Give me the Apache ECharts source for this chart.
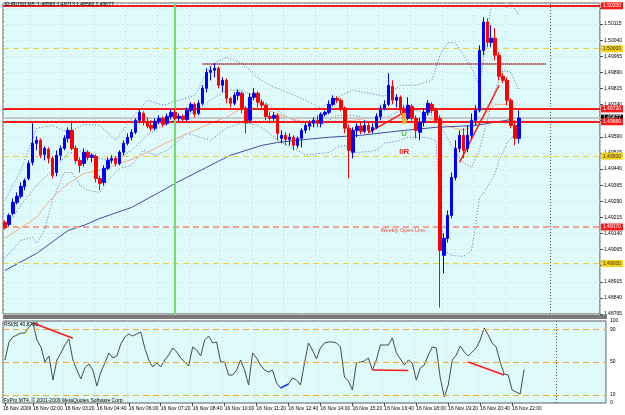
<!DOCTYPE html>
<html>
<head>
<meta charset="utf-8">
<script src="https://cdn.jsdelivr.net/npm/echarts@6/dist/echarts.min.js"></script>
<style>
  html, body { margin: 0; padding: 0; background: #fff; }
  #chart { width: 625px; height: 415px; }
</style>
</head>
<body>
<div id="chart"></div>
<script>
// EURUSD M5, 16 Nov 2009 -- one candle per 10 minutes
const FONT = "Liberation Sans";
const startLabel = "16 Nov 2009";
const startMinutes = 50; // first slot is 00:50
const stepMinutes = 10;
const slotCount = 151;   // candles + empty space on the right
const tickSlots = [0, 7, 15, 23, 31, 39, 47, 55, 63, 71, 79, 87, 95, 103, 111, 119, 127];

const priceMin = 1.48765;
const priceMax = 1.50213;
const priceStep = 0.00075;

// [open, close, low, high]
const candles = [
  [1.49192, 1.49168, 1.49159, 1.49201], [1.49182, 1.49224, 1.49173, 1.49233], [1.49233, 1.49285, 1.49224, 1.49303],
  [1.49285, 1.49313, 1.49275, 1.49331], [1.49313, 1.49359, 1.49303, 1.49378], [1.49359, 1.49387, 1.49341, 1.49396],
  [1.49396, 1.49466, 1.49387, 1.49480], [1.49471, 1.49560, 1.49457, 1.49653], [1.49560, 1.49574, 1.49527, 1.49592],
  [1.49574, 1.49504, 1.49490, 1.49583], [1.49508, 1.49536, 1.49480, 1.49546], [1.49532, 1.49490, 1.49466, 1.49541],
  [1.49490, 1.49410, 1.49396, 1.49499], [1.49424, 1.49504, 1.49406, 1.49527], [1.49504, 1.49536, 1.49480, 1.49550],
  [1.49536, 1.49583, 1.49527, 1.49597], [1.49583, 1.49620, 1.49564, 1.49634], [1.49620, 1.49536, 1.49527, 1.49657],
  [1.49536, 1.49480, 1.49466, 1.49550], [1.49480, 1.49457, 1.49424, 1.49494], [1.49466, 1.49518, 1.49452, 1.49536],
  [1.49518, 1.49494, 1.49480, 1.49527], [1.49494, 1.49504, 1.49471, 1.49513], [1.49499, 1.49396, 1.49378, 1.49508],
  [1.49396, 1.49373, 1.49341, 1.49410], [1.49378, 1.49443, 1.49364, 1.49457], [1.49443, 1.49480, 1.49434, 1.49494],
  [1.49480, 1.49490, 1.49466, 1.49504], [1.49490, 1.49466, 1.49452, 1.49499], [1.49466, 1.49518, 1.49457, 1.49527],
  [1.49518, 1.49560, 1.49504, 1.49574], [1.49560, 1.49588, 1.49550, 1.49606], [1.49588, 1.49611, 1.49574, 1.49625],
  [1.49611, 1.49667, 1.49602, 1.49676], [1.49667, 1.49704, 1.49653, 1.49718], [1.49699, 1.49657, 1.49643, 1.49709],
  [1.49662, 1.49639, 1.49630, 1.49681], [1.49643, 1.49630, 1.49616, 1.49667], [1.49630, 1.49662, 1.49620, 1.49676],
  [1.49662, 1.49676, 1.49648, 1.49690], [1.49676, 1.49648, 1.49634, 1.49685], [1.49653, 1.49685, 1.49643, 1.49699],
  [1.49685, 1.49704, 1.49671, 1.49718], [1.49704, 1.49676, 1.49667, 1.49723], [1.49676, 1.49685, 1.49662, 1.49699],
  [1.49685, 1.49671, 1.49662, 1.49695], [1.49671, 1.49713, 1.49662, 1.49727], [1.49713, 1.49741, 1.49704, 1.49751],
  [1.49741, 1.49695, 1.49681, 1.49751], [1.49699, 1.49746, 1.49690, 1.49760], [1.49746, 1.49816, 1.49737, 1.49830],
  [1.49816, 1.49890, 1.49797, 1.49909], [1.49890, 1.49900, 1.49853, 1.49918], [1.49900, 1.49909, 1.49867, 1.49932],
  [1.49909, 1.49830, 1.49816, 1.49918], [1.49830, 1.49853, 1.49797, 1.49867], [1.49853, 1.49769, 1.49746, 1.49863],
  [1.49769, 1.49746, 1.49727, 1.49774], [1.49746, 1.49783, 1.49737, 1.49797], [1.49783, 1.49797, 1.49760, 1.49811],
  [1.49793, 1.49723, 1.49699, 1.49802], [1.49723, 1.49657, 1.49606, 1.49732], [1.49667, 1.49774, 1.49653, 1.49793],
  [1.49774, 1.49793, 1.49760, 1.49816], [1.49793, 1.49751, 1.49727, 1.49802], [1.49751, 1.49737, 1.49713, 1.49765],
  [1.49737, 1.49685, 1.49667, 1.49746], [1.49685, 1.49676, 1.49653, 1.49704], [1.49676, 1.49690, 1.49662, 1.49704],
  [1.49690, 1.49606, 1.49574, 1.49699], [1.49583, 1.49597, 1.49560, 1.49620], [1.49597, 1.49578, 1.49550, 1.49611],
  [1.49578, 1.49588, 1.49550, 1.49606], [1.49588, 1.49550, 1.49527, 1.49597], [1.49550, 1.49583, 1.49536, 1.49592],
  [1.49583, 1.49620, 1.49541, 1.49630], [1.49620, 1.49643, 1.49606, 1.49657], [1.49639, 1.49653, 1.49620, 1.49667],
  [1.49653, 1.49667, 1.49634, 1.49681], [1.49667, 1.49653, 1.49634, 1.49690], [1.49653, 1.49695, 1.49634, 1.49704],
  [1.49695, 1.49704, 1.49685, 1.49713], [1.49704, 1.49741, 1.49695, 1.49760], [1.49741, 1.49769, 1.49732, 1.49783],
  [1.49769, 1.49760, 1.49746, 1.49779], [1.49760, 1.49723, 1.49709, 1.49769], [1.49723, 1.49630, 1.49606, 1.49732],
  [1.49630, 1.49527, 1.49396, 1.49648], [1.49518, 1.49620, 1.49490, 1.49634], [1.49620, 1.49639, 1.49588, 1.49653],
  [1.49639, 1.49616, 1.49602, 1.49662], [1.49616, 1.49643, 1.49606, 1.49667], [1.49643, 1.49620, 1.49606, 1.49657],
  [1.49620, 1.49634, 1.49606, 1.49653], [1.49634, 1.49685, 1.49625, 1.49699], [1.49685, 1.49723, 1.49667, 1.49737],
  [1.49723, 1.49741, 1.49713, 1.49760], [1.49741, 1.49830, 1.49732, 1.49886], [1.49825, 1.49760, 1.49741, 1.49853],
  [1.49760, 1.49774, 1.49727, 1.49788], [1.49774, 1.49723, 1.49699, 1.49783], [1.49723, 1.49676, 1.49653, 1.49737],
  [1.49676, 1.49737, 1.49667, 1.49774], [1.49732, 1.49676, 1.49657, 1.49741], [1.49676, 1.49620, 1.49583, 1.49690],
  [1.49611, 1.49657, 1.49574, 1.49676], [1.49657, 1.49704, 1.49639, 1.49723], [1.49704, 1.49746, 1.49690, 1.49760],
  [1.49741, 1.49713, 1.49699, 1.49751], [1.49713, 1.49667, 1.49653, 1.49723], [1.49676, 1.49061, 1.48795, 1.49690],
  [1.49038, 1.49117, 1.48954, 1.49140], [1.49117, 1.49224, 1.49098, 1.49247], [1.49224, 1.49401, 1.49210, 1.49424],
  [1.49401, 1.49536, 1.49387, 1.49574], [1.49536, 1.49597, 1.49518, 1.49620], [1.49597, 1.49527, 1.49490, 1.49630],
  [1.49536, 1.49597, 1.49518, 1.49643], [1.49597, 1.49667, 1.49583, 1.49699], [1.49667, 1.49713, 1.49643, 1.49737],
  [1.49713, 1.49993, 1.49704, 1.50016], [1.49993, 1.50124, 1.49970, 1.50147], [1.50124, 1.50030, 1.50007, 1.50142],
  [1.50030, 1.50049, 1.50007, 1.50110], [1.50049, 1.49970, 1.49946, 1.50096], [1.49970, 1.49872, 1.49853, 1.49984],
  [1.49872, 1.49853, 1.49839, 1.49886], [1.49853, 1.49760, 1.49737, 1.49867], [1.49760, 1.49643, 1.49630, 1.49769],
  [1.49643, 1.49583, 1.49550, 1.49667], [1.49583, 1.49677, 1.49560, 1.49713]
];

// bollinger bands and moving averages, [slot, price]
const upperBand = [
  [0, 1.49294], [4, 1.49434], [8, 1.49630], [12, 1.49643], [16, 1.49611], [20, 1.49648], [24, 1.49643],
  [28, 1.49574], [32, 1.49676], [36, 1.49760], [40, 1.49737], [44, 1.49760], [48, 1.49783], [52, 1.49923],
  [56, 1.49960], [60, 1.49932], [64, 1.49863], [68, 1.49821], [72, 1.49793], [76, 1.49760], [80, 1.49723],
  [84, 1.49774], [88, 1.49807], [92, 1.49793], [96, 1.49779], [100, 1.49830], [104, 1.49830], [108, 1.49853],
  [110, 1.49970], [112, 1.50030], [114, 1.50026], [116, 1.49970], [118, 1.49914], [120, 1.49830],
  [122, 1.50063], [123, 1.50212], [126, 1.50212], [127, 1.50193], [128, 1.50212], [130, 1.50156]
];
const middleBand = [
  [0, 1.49159], [4, 1.49271], [8, 1.49364], [12, 1.49434], [16, 1.49513], [20, 1.49527], [24, 1.49490],
  [28, 1.49480], [32, 1.49527], [36, 1.49597], [40, 1.49643], [44, 1.49681], [48, 1.49704], [52, 1.49760],
  [56, 1.49807], [60, 1.49807], [64, 1.49769], [68, 1.49723], [72, 1.49676], [76, 1.49643], [80, 1.49643],
  [84, 1.49690], [88, 1.49690], [92, 1.49676], [96, 1.49676], [100, 1.49713], [104, 1.49713], [108, 1.49690],
  [110, 1.49643], [113, 1.49550], [116, 1.49466], [118, 1.49448], [120, 1.49527], [122, 1.49667],
  [124, 1.49807], [126, 1.49900], [128, 1.49890], [130, 1.49807]
];
const lowerBand = [
  [0, 1.49024], [4, 1.49108], [7, 1.49122], [8, 1.49094], [10, 1.49154], [12, 1.49294], [15, 1.49424],
  [17, 1.49424], [19, 1.49364], [21, 1.49341], [24, 1.49331], [26, 1.49387], [29, 1.49443], [32, 1.49457],
  [35, 1.49527], [38, 1.49504], [41, 1.49527], [44, 1.49574], [46, 1.49606], [48, 1.49597], [50, 1.49583],
  [52, 1.49574], [56, 1.49630], [60, 1.49657], [64, 1.49643], [66, 1.49620], [69, 1.49574], [74, 1.49527],
  [76, 1.49504], [82, 1.49518], [84, 1.49541], [86, 1.49550], [88, 1.49518], [90, 1.49518], [94, 1.49527],
  [96, 1.49560], [100, 1.49574], [102, 1.49588], [106, 1.49588], [109, 1.49574], [110, 1.49294],
  [111, 1.49061], [113, 1.49038], [116, 1.49033], [118, 1.49061], [119, 1.49168], [120, 1.49308],
  [121, 1.49327], [122, 1.49355], [124, 1.49420], [125, 1.49480], [127, 1.49560], [129, 1.49606], [130, 1.49620]
];
const fastMa = [
  [0, 1.49117], [8, 1.49215], [12, 1.49308], [16, 1.49373], [20, 1.49420], [24, 1.49434], [29, 1.49466],
  [33, 1.49490], [37, 1.49527], [41, 1.49564], [44, 1.49588], [48, 1.49620], [52, 1.49653], [56, 1.49681],
  [60, 1.49723], [64, 1.49723], [68, 1.49704], [72, 1.49676], [77, 1.49653], [82, 1.49657], [88, 1.49667],
  [94, 1.49681], [100, 1.49681], [107, 1.49676], [110, 1.49657], [113, 1.49634], [116, 1.49620],
  [119, 1.49643], [122, 1.49704], [124, 1.49741], [127, 1.49741], [130, 1.49713]
];
const slowMa = [
  [0, 1.48968], [8, 1.49047], [16, 1.49154], [20, 1.49178], [24, 1.49210], [32, 1.49261], [40, 1.49341],
  [43, 1.49373], [51, 1.49448], [57, 1.49504], [65, 1.49550], [69, 1.49564], [74, 1.49574], [82, 1.49588],
  [90, 1.49597], [101, 1.49620], [109, 1.49634], [119, 1.49643], [127, 1.49667], [130, 1.49681]
];

const rsiValues = [
  52.4, 74.4, 80.5, 82.9, 85.4, 85.4, 92.7, 97.6, 76.8, 68.3,
  50.0, 57.3, 28.0, 52.4, 61.0, 70.7, 78.0, 52.4, 40.2, 29.3,
  42.7, 47.6, 40.2, 20.7, 37.8, 48.8, 61.0, 54.9, 57.3, 72.0,
  80.5, 84.1, 81.7, 84.1, 86.6, 67.1, 52.4, 43.9, 48.8, 43.9,
  52.4, 58.5, 67.1, 62.2, 54.9, 50.0, 45.1, 68.3, 64.6, 57.3,
  76.8, 81.7, 73.2, 74.4, 50.0, 50.0, 34.1, 34.1, 40.2, 52.4,
  40.2, 22.0, 61.0, 54.9, 46.3, 40.2, 37.8, 40.2, 24.4, 18.3,
  20.7, 23.2, 30.5, 28.0, 22.0, 48.8, 73.2, 64.6, 53.7, 67.1,
  73.2, 74.4, 74.4, 73.2, 68.3, 31.7, 26.8, 15.9, 48.8, 50.0,
  51.2, 54.9, 40.2, 52.4, 70.7, 70.7, 70.7, 79.3, 61.0, 53.7,
  46.3, 52.4, 48.8, 28.0, 42.7, 46.3, 58.5, 68.3, 67.1, 30.5,
  7.3, 22.0, 52.4, 58.5, 69.5, 62.2, 57.3, 62.2, 67.1, 76.8,
  91.5, 82.9, 73.2, 68.3, 50.0, 35.4, 34.1, 15.9, 13.4, 11.0,
  40.87
];
const rsiLevels = [90, 50, 10];
const rsiTickLabels = [0, 10, 50, 90, 100];

// horizontal levels drawn on the price pane
const redLevels = [1.50200, 1.49720, 1.49660];
const yellowLevels = [1.50000, 1.49500, 1.49000];
const weeklyOpen = 1.49170;
const bidPrice = 1.49677;
const resistance = { from: 50, to: 137, price: 1.49932 };
const greenSlot = 43;
const futureSlot = 138;

const pad = (n) => String(n).padStart(2, "0");
const categories = [];
for (let i = 0; i < slotCount; i++) {
  const m = startMinutes + i * stepMinutes;
  categories.push(i === 0 ? startLabel : `16 Nov ${pad(Math.floor(m / 60) % 24)}:${pad(m % 60)}`);
}
const showTick = (index) => tickSlots.includes(index);

function levelLine(price, color, type, width, box, textColor) {
  return {
    yAxis: price,
    lineStyle: { color, type, width },
    label: box
      ? {
          show: true, position: "end", distance: 1, formatter: price.toFixed(5),
          backgroundColor: box, color: textColor, fontSize: 5, fontFamily: FONT, padding: [1, 2],
        }
      : { show: false },
  };
}

function textMark(slot, price, text, color, size, weight) {
  return {
    coord: [slot, price], symbolSize: 0,
    label: { show: true, position: "inside", formatter: text, color, fontSize: size, fontWeight: weight, fontFamily: FONT },
  };
}

const chart = echarts.init(document.getElementById("chart"));
const bandLine = (name, data) => ({
  name, type: "line", data, xAxisIndex: 0, yAxisIndex: 0, showSymbol: false, silent: true,
  lineStyle: { color: "#5d6fc0", width: 1, type: [1, 2] }, z: 3,
});
const smallText = { fontSize: 5, fontWeight: "normal", color: "#000", fontFamily: FONT };

chart.setOption({
  animation: false,
  backgroundColor: "#ffffff",
  textStyle: { fontFamily: FONT },
  title: [
    { text: "EURUSD,M5  1.49583 1.49713 1.49560 1.49677", left: 5, top: 2, padding: 0, textStyle: smallText },
    { text: "RSI(8) 40.8709", left: 4, top: 322, padding: 0, textStyle: smallText },
    { text: "FxPro MT4, \u00a9 2001-2009 MetaQuotes Software Corp.", left: 4, top: 398, padding: 0, textStyle: smallText },
    // first time label of the axis (drawn apart so it does not knock out its neighbour)
    { text: startLabel, left: 3, top: 406, padding: 0, textStyle: smallText },
  ],
  graphic: [
    { type: "rect", shape: { x: 3, y: 315, width: 604, height: 4 }, style: { fill: "#7a7a7a" }, silent: true },
  ],
  grid: [
    { left: 3, right: 19, top: 3, bottom: 101, show: true, backgroundColor: "#dffafa", borderColor: "#5a5a5a", borderWidth: 1 },
    { left: 3, right: 19, top: 321, bottom: 12, show: true, backgroundColor: "#dffafa", borderColor: "#5a5a5a", borderWidth: 1 },
  ],
  xAxis: [
    {
      type: "category", gridIndex: 0, data: categories, boundaryGap: true,
      axisLine: { show: false }, axisTick: { show: false }, axisLabel: { show: false },
      splitLine: { show: true, interval: (i) => showTick(i), lineStyle: { color: "#c3dcd6", type: [1, 3] } },
    },
    {
      type: "category", gridIndex: 1, data: categories, boundaryGap: true,
      axisLine: { show: false },
      axisTick: { show: true, alignWithLabel: true, interval: (i) => showTick(i), length: 3, lineStyle: { color: "#444" } },
      axisLabel: {
        show: true, interval: (i) => i > 0 && showTick(i), showMinLabel: true, showMaxLabel: true, hideOverlap: false,
        align: "left", margin: 3, fontSize: 5, color: "#000", fontFamily: FONT,
      },
      splitLine: { show: true, interval: (i) => showTick(i), lineStyle: { color: "#c3dcd6", type: [1, 3] } },
    },
  ],
  yAxis: [
    { type: "value", gridIndex: 0, min: priceMin, max: priceMax, show: false },
    {
      type: "value", gridIndex: 0, position: "right", min: 0, max: (priceMax - priceMin) / priceStep, interval: 1,
      axisLine: { show: false },
      axisTick: { show: true, length: 3, lineStyle: { color: "#444" } },
      axisLabel: {
        show: true, showMaxLabel: false, margin: 4, fontSize: 5, color: "#000", fontFamily: FONT,
        formatter: (k) => (priceMin + k * priceStep).toFixed(5),
      },
      splitLine: { show: true, lineStyle: { color: "#c3dcd6", type: [1, 3] } },
    },
    {
      type: "value", gridIndex: 1, position: "right", min: 0, max: 100, interval: 10,
      axisLine: { show: false }, axisTick: { show: false }, splitLine: { show: false },
      axisLabel: {
        show: true, margin: 4, fontSize: 5, color: "#000", fontFamily: FONT,
        formatter: (v) => (rsiTickLabels.includes(v) ? String(v) : ""),
      },
    },
  ],
  series: [
    {
      name: "EURUSD", type: "candlestick", data: candles, xAxisIndex: 0, yAxisIndex: 0,
      barWidth: 3, z: 5,
      itemStyle: { color: "#0000ff", color0: "#ff0000", borderColor: "#0000ff", borderColor0: "#ff0000", borderWidth: 1 },
    },
    bandLine("Upper band", upperBand),
    bandLine("Middle band", middleBand),
    bandLine("Lower band", lowerBand),
    {
      name: "Fast MA", type: "line", data: fastMa, xAxisIndex: 0, yAxisIndex: 0, showSymbol: false, silent: true,
      lineStyle: { color: "#f2b08c", width: 1 }, z: 3,
    },
    {
      name: "Slow MA", type: "line", data: slowMa, xAxisIndex: 0, yAxisIndex: 0, showSymbol: false, silent: true,
      lineStyle: { color: "#3f4fa8", width: 1 }, z: 3,
      markLine: {
        silent: true, symbol: ["none", "none"], animation: false, precision: 5, label: { show: false },
        data: [
          ...yellowLevels.map((p) => levelLine(p, "#ecd240", [6, 4], 1, "#f5d21a", "#333")),
          levelLine(weeklyOpen, "#f3a090", [6, 4], 2, "#ff1a1a", "#fff"),
          levelLine(bidPrice, "#c8c8c8", "solid", 2, "#000", "#fff"),
          ...redLevels.map((p) => levelLine(p, "#ff1a1a", "solid", 2, "#ff1a1a", "#fff")),
          [
            { coord: [resistance.from, resistance.price], lineStyle: { color: "#c00000", type: [1, 1], width: 2 } },
            { coord: [resistance.to, resistance.price] },
          ],
          [
            { coord: [92, 1.49611], lineStyle: { color: "#ff1a1a", type: "solid", width: 1.5 } },
            { coord: [101, 1.49704] },
          ],
          [
            { coord: [115, 1.49471], lineStyle: { color: "#ff1a1a", type: "solid", width: 1.5 } },
            { coord: [125, 1.49830] },
          ],
          { xAxis: greenSlot, lineStyle: { color: "#6fe06f", type: "solid", width: 2 } },
          { xAxis: futureSlot, lineStyle: { color: "#555", type: [1, 2], width: 1 } },
        ],
      },
      markPoint: {
        silent: true, animation: false, z: 20,
        data: [
          { coord: [101, 1.49676], symbol: "rect", symbolSize: [4, 11], itemStyle: { color: "#f5b21e" }, label: { show: false } },
          textMark(101, 1.49602, "U", "#22aa22", 8, "normal"),
          textMark(101, 1.49522, "0R", "#ee2222", 8, "bold"),
          {
            coord: [95, 1.49155], symbolSize: 0,
            label: { show: true, position: "right", distance: 0, formatter: "Weekly Open Line", color: "#f04a3a", fontSize: 5.5, fontFamily: FONT },
          },
        ],
      },
    },
    {
      name: "RSI(8)", type: "line", data: rsiValues, xAxisIndex: 1, yAxisIndex: 2, showSymbol: false, silent: true,
      lineStyle: { color: "#4a4a4a", width: 1 }, z: 4,
      markLine: {
        silent: true, symbol: ["none", "none"], animation: false, precision: 2, label: { show: false },
        data: [
          ...rsiLevels.map((v) => ({ yAxis: v, lineStyle: { color: "#f0a830", type: [6, 4], width: 1 } })),
          { xAxis: futureSlot, lineStyle: { color: "#555", type: [1, 2], width: 1 } },
          [{ coord: [7, 97.6], lineStyle: { color: "#ff1a1a", type: "solid", width: 1.5 } }, { coord: [17, 79.0] }],
          [{ coord: [92, 40.2], lineStyle: { color: "#ff1a1a", type: "solid", width: 1.5 } }, { coord: [101, 39.5] }],
          [{ coord: [116, 50.0], lineStyle: { color: "#ff1a1a", type: "solid", width: 1.5 } }, { coord: [125, 34.1] }],
          [{ coord: [69, 18.3], lineStyle: { color: "#1a3aff", type: "solid", width: 1.5 } }, { coord: [71, 23.2] }],
        ],
      },
    },
  ],
});
</script>
</body>
</html>
